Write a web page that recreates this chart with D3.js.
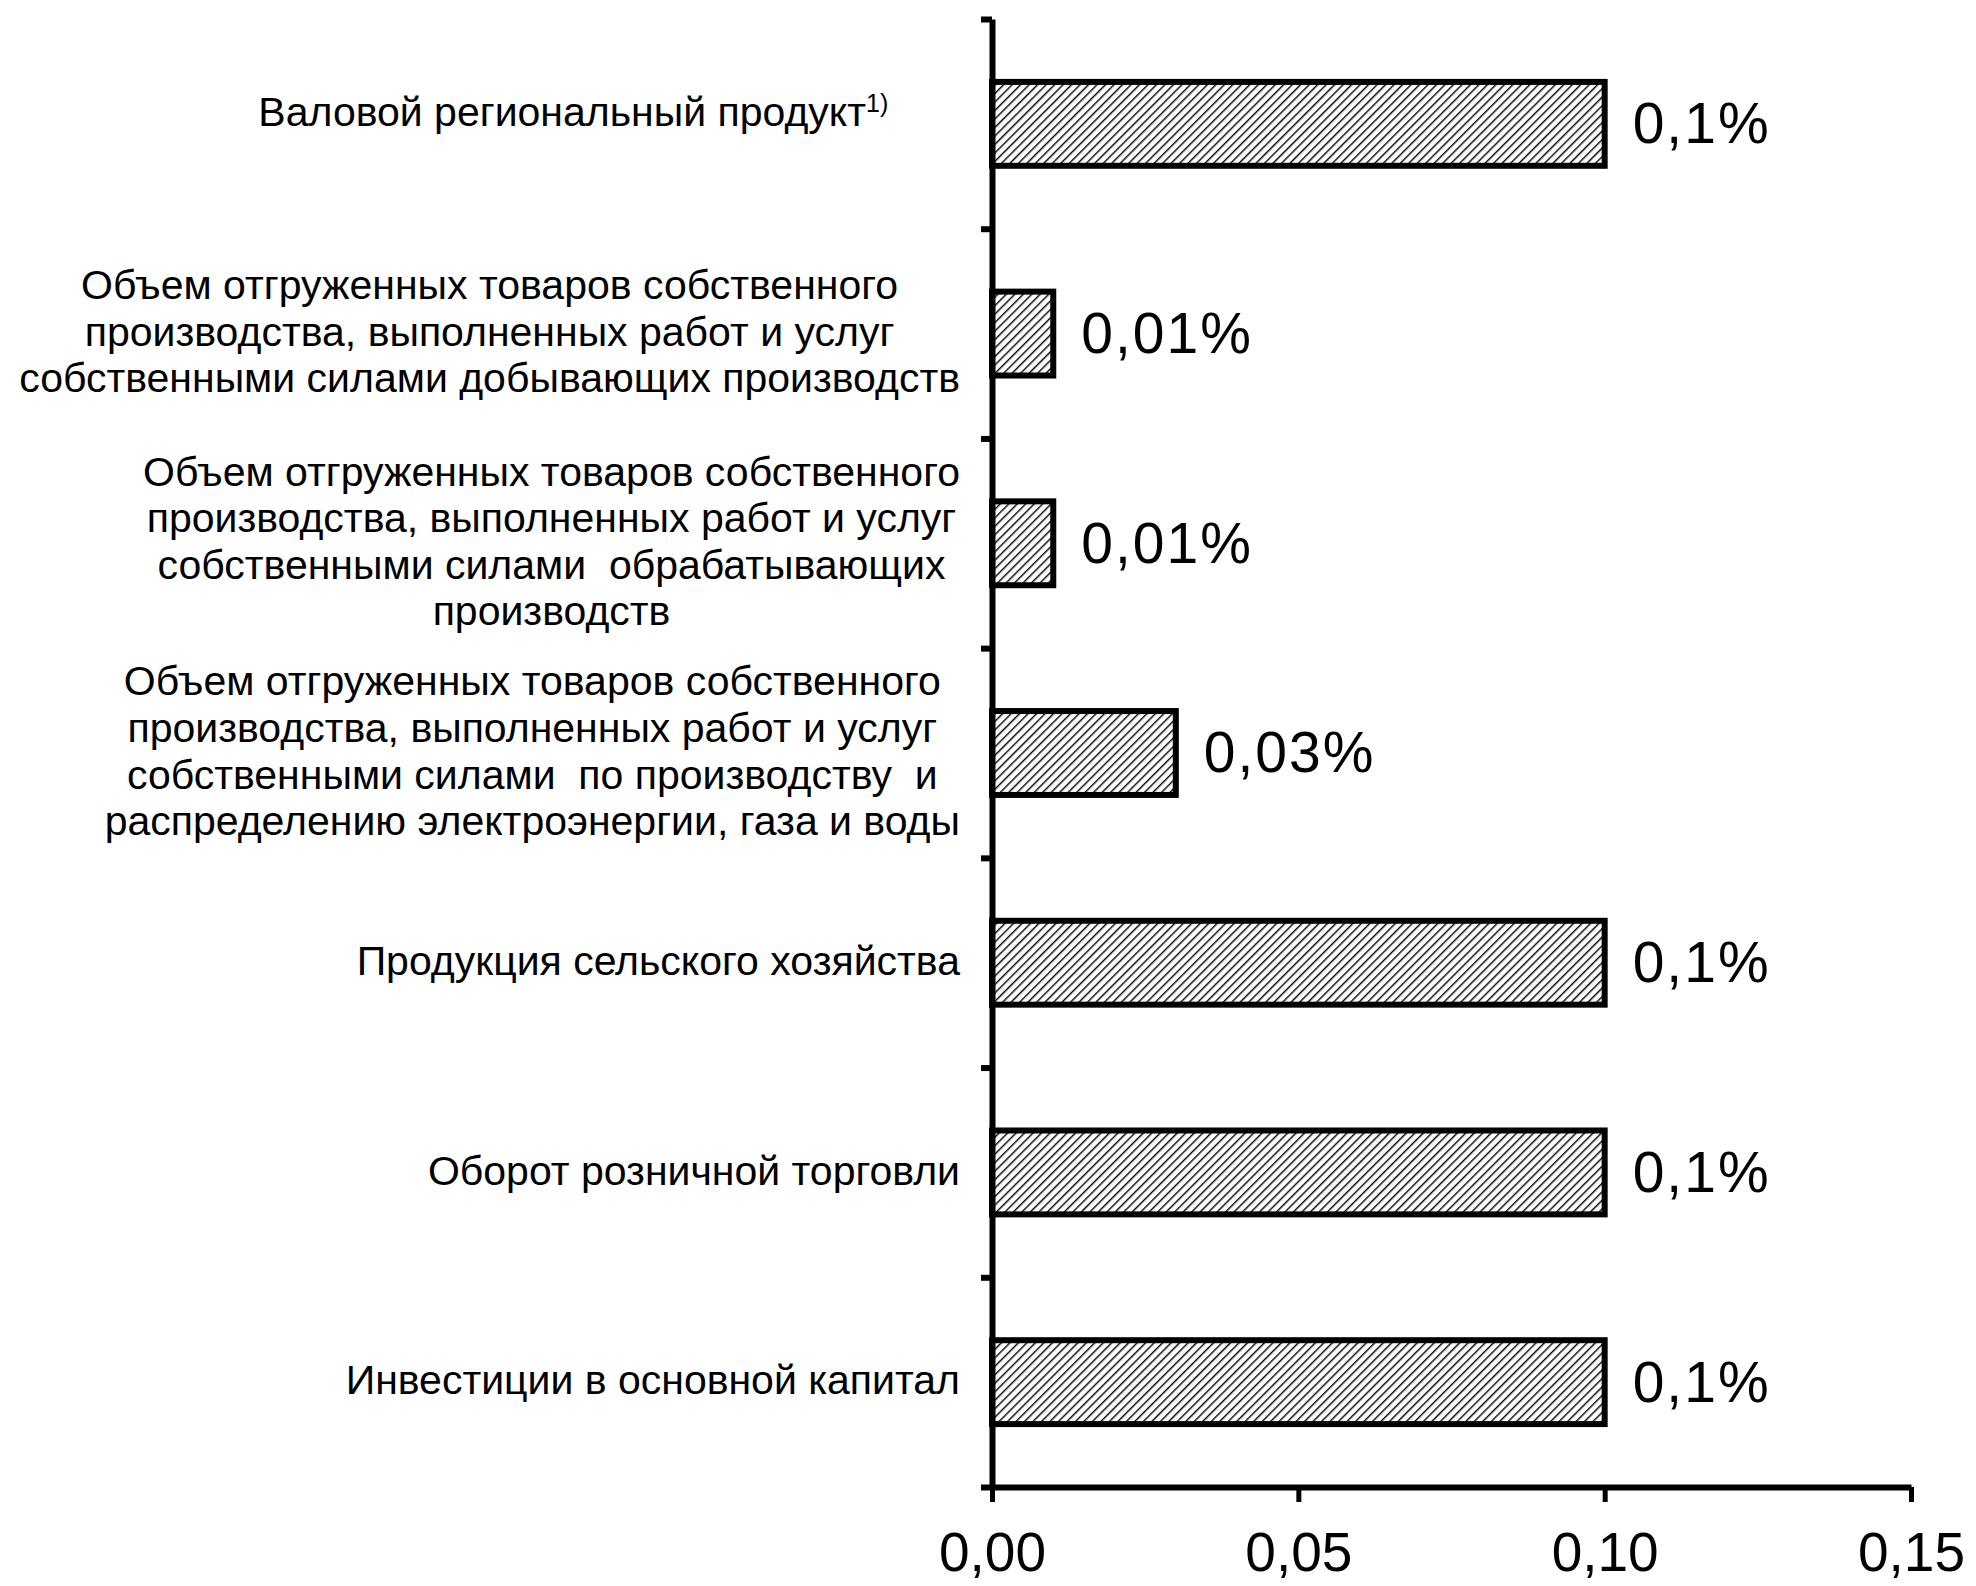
<!DOCTYPE html>
<html>
<head>
<meta charset="utf-8">
<script src="https://cdn.jsdelivr.net/npm/d3@7"></script>
<style>
  body { margin: 0; background: #fff; }
  text { font-family: "Liberation Sans", Arial, sans-serif; fill: #000; }
</style>
</head>
<body>
<script>
// categories, one array of lines each
const categories = [
  ['Валовой региональный продукт'],
  ['Объем отгруженных товаров собственного', 'производства, выполненных работ и услуг', 'собственными силами добывающих производств'],
  ['Объем отгруженных товаров собственного', 'производства, выполненных работ и услуг', 'собственными силами  обрабатывающих', 'производств'],
  ['Объем отгруженных товаров собственного', 'производства, выполненных работ и услуг', 'собственными силами  по производству  и', 'распределению электроэнергии, газа и воды'],
  ['Продукция сельского хозяйства'],
  ['Оборот розничной торговли'],
  ['Инвестиции в основной капитал']
];
const footnotes = ['1)', '', '', '', '', '', ''];
const values = [0.1, 0.01, 0.01, 0.03, 0.1, 0.1, 0.1];
const valueLabels = ['0,1%', '0,01%', '0,01%', '0,03%', '0,1%', '0,1%', '0,1%'];
const xTicks = [0, 0.05, 0.10, 0.15];

const svgWidth = 1976;
const svgHeight = 1586;
const margin = {left: 992, top: 19, right: 65, bottom: 99};
const width = svgWidth - margin.left - margin.right;
const height = svgHeight - margin.top - margin.bottom;

const svg = d3.select('body').append('svg')
  .attr('width', svgWidth)
  .attr('height', svgHeight);

const defs = svg.append('defs');
const pat = defs.append('pattern')
  .attr('id', 'hatch')
  .attr('patternUnits', 'userSpaceOnUse')
  .attr('width', 6)
  .attr('height', 6)
  .attr('patternTransform', 'rotate(45)');
pat.append('rect').attr('width', 6).attr('height', 6).attr('fill', '#fff');
pat.append('line')
  .attr('x1', 0).attr('y1', 0).attr('x2', 0).attr('y2', 6)
  .attr('stroke', '#000').attr('stroke-width', 2.8);

const g = svg.append('g')
  .attr('transform', `translate(${margin.left}, ${margin.top})`);

const xScale = d3.scaleLinear().domain([0, 0.15]).range([0, width]);
const yScale = d3.scaleBand()
  .domain(d3.range(categories.length))
  .range([0, height])
  .paddingInner(0.6)
  .paddingOuter(0.3);
const yEdges = d3.scaleLinear().domain([0, categories.length]).range([0, height]);

// bars
g.selectAll('rect.bar')
  .data(values)
  .enter()
  .append('rect')
  .attr('class', 'bar')
  .attr('x', 0)
  .attr('y', (d, i) => yScale(i))
  .attr('width', d => xScale(d))
  .attr('height', yScale.bandwidth())
  .attr('fill', 'url(#hatch)')
  .attr('stroke', '#000')
  .attr('stroke-width', 6);

// value labels
g.selectAll('text.val')
  .data(values)
  .enter()
  .append('text')
  .attr('class', 'val')
  .attr('x', d => xScale(d) + 28)
  .attr('y', (d, i) => yScale(i) + yScale.bandwidth() / 2)
  .attr('dy', '0.34em')
  .style('font-size', '57px')
  .style('letter-spacing', '2px')
  .text((d, i) => valueLabels[i]);

// x axis
const xAxis = g.append('g')
  .attr('transform', `translate(0, ${height})`)
  .call(d3.axisBottom(xScale)
    .tickValues(xTicks)
    .tickSize(15)
    .tickSizeOuter(0)
    .tickFormat(d => d3.format('.2f')(d).replace('.', ',')));
xAxis.select('.domain').attr('stroke-width', 6);
xAxis.selectAll('.tick line').attr('stroke-width', 5);
xAxis.selectAll('.tick text')
  .attr('y', 45)
  .attr('dy', '0.71em')
  .style('font-size', '55px');

// y axis with ticks between categories
const yAxis = g.append('g')
  .call(d3.axisLeft(yEdges)
    .tickValues(d3.range(categories.length + 1))
    .tickSize(11)
    .tickSizeOuter(0)
    .tickFormat(''));
yAxis.select('.domain').attr('stroke-width', 6);
yAxis.selectAll('.tick line').attr('stroke-width', 6);

// category labels: centred blocks, right edge next to the axis
const labelRight = -32;
const lineH = 46.6;
categories.forEach((lines, i) => {
  const cy = yScale(i) + yScale.bandwidth() / 2 - (footnotes[i] ? 10 : 0);
  const t = g.append('text')
    .attr('class', 'cat')
    .style('font-size', '41px');
  lines.forEach((ln, j) => {
    t.append('tspan')
      .attr('y', cy + (j - (lines.length - 1) / 2) * lineH)
      .attr('dy', '0.3em')
      .style('white-space', 'pre')
      .text(ln);
  });
  const spans = t.selectAll('tspan').nodes();
  const maxW = d3.max(spans.map(n => n.getComputedTextLength()));
  if (footnotes[i]) {
    // this label sits further from the axis, footnote raised after it
    t.selectAll('tspan').attr('x', labelRight - 94 - maxW);
    t.append('tspan')
      .attr('dy', '-0.55em')
      .style('font-size', '25px')
      .text(footnotes[i]);
  } else {
    t.attr('text-anchor', 'middle');
    t.selectAll('tspan').attr('x', labelRight - maxW / 2);
  }
});
</script>
</body>
</html>
